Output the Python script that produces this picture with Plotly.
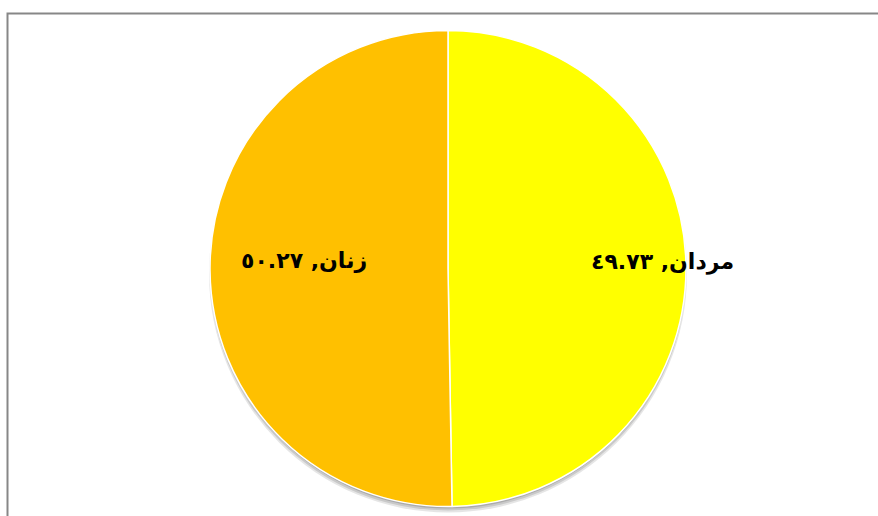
import plotly.graph_objects as go

labels = ["مردان", "زنان"]
values = [49.73, 50.27]
value_text = ["٤٩.٧٣", "٥٠.٢٧"]
colors = ["#FFFF00", "#FFC000"]

W, H = 878, 516
cx, cy, r = 448, 268.5, 238

fig = go.Figure(go.Pie(
    labels=labels,
    values=values,
    sort=False,
    direction="clockwise",
    rotation=0,
    marker=dict(colors=colors, line=dict(color="white", width=1.5)),
    textinfo="none",
    hoverinfo="label+value",
    showlegend=False,
    domain=dict(x=[(cx - r) / W, (cx + r) / W],
                y=[(H - cy - r) / H, (H - cy + r) / H]),
))

label_pos = [(662, 262), (304, 260)]
for lab, vt, (px, py) in zip(labels, value_text, label_pos):
    fig.add_annotation(
        x=px / W, y=1 - py / H, xref="paper", yref="paper",
        text=f"<b>{lab}, {vt}</b>", showarrow=False,
        font=dict(family="DejaVu Sans", size=22, color="black"),
        xanchor="center", yanchor="middle",
    )

# soft drop shadow beneath the pie
for dy, dr, op in [(5, 1, 0.10), (4, 0, 0.12), (3, -1, 0.15)]:
    fig.add_shape(type="circle", xref="paper", yref="paper",
                  x0=(cx - r - dr) / W, x1=(cx + r + dr) / W,
                  y0=1 - (cy + dy + r + dr) / H, y1=1 - (cy + dy - r - dr) / H,
                  fillcolor=f"rgba(0,0,0,{op})", line=dict(width=0), layer="below")

fig.add_shape(type="rect", xref="paper", yref="paper",
              x0=7.5 / W, x1=1.05, y0=-0.05, y1=1 - 13.5 / H,
              line=dict(color="#878787", width=2), layer="below")

fig.update_layout(
    width=W, height=H,
    margin=dict(l=0, r=0, t=0, b=0),
    paper_bgcolor="white", plot_bgcolor="white",
)

fig.write_html("out.html", config={"displayModeBar": False},
               post_script="document.body.style.margin='0';document.body.style.overflow='hidden';")
